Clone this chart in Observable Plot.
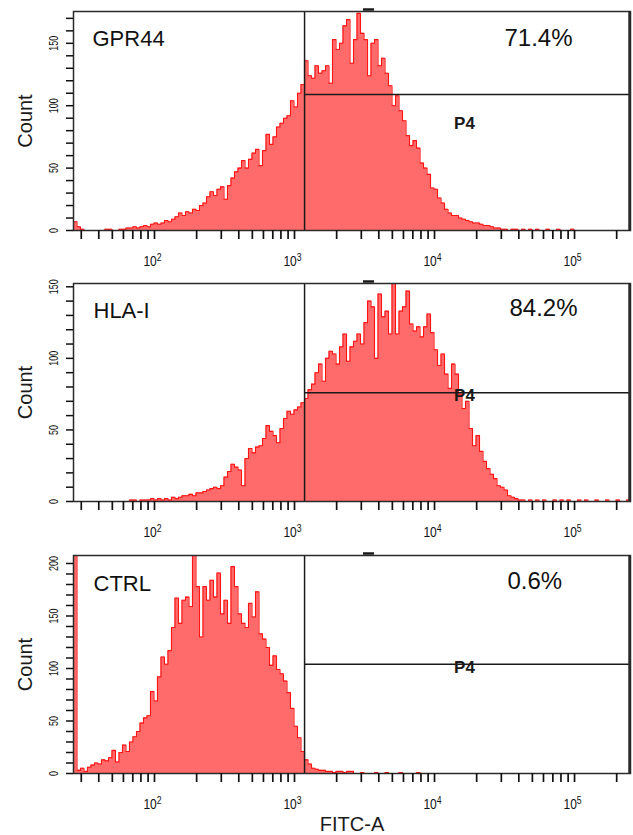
<!DOCTYPE html>
<html><head><meta charset="utf-8">
<script src="https://cdn.jsdelivr.net/npm/d3@7"></script>
<script src="https://cdn.jsdelivr.net/npm/@observablehq/plot@0.6"></script>
<style>
body{margin:0;background:#fff;}
#chart{width:633px;}
#chart svg{display:block;}
</style></head><body><div id="chart"></div>
<script>
// ---------- data ----------
const panelNames = ["GPR44", "HLA-I", "CTRL"];
const panelPercents = ["71.4%", "84.2%", "0.6%"];
const yMax = [175.5, 152.3, 207.6];
const yTicks = [[0, 50, 100, 150], [0, 50, 100, 150], [0, 50, 100, 150, 200]];
const gateX = 1180;
const gateY = [109, 76, 104];
const gateLabel = "P4";
const xAxisLabel = "FITC-A";
const yAxisLabel = "Count";
const xDomain = [26.4, 251000];
const xTicksMajor = [100, 1000, 10000, 100000];
const xTickLabels = ["10^2", "10^3", "10^4", "10^5"];
const xTicksMinor = [30, 40, 50, 60, 70, 80, 90, 200, 300, 400, 500, 600, 700, 800, 900,
  2000, 3000, 4000, 5000, 6000, 7000, 8000, 9000, 20000, 30000, 40000, 50000, 60000, 70000, 80000, 90000, 200000];
const peakMark = [3110, 3725];
// histogram bins: log10 start and width of each channel bin
const binStartLog = 1.4214;
const binStepLog = 0.025;
const countsGPR44 = [
  7,3,1,0,0,0,0,0,0,1,
  1,0,0,1,1,2,2,3,2,3,
  4,3,5,6,5,6,8,7,9,11,
  14,12,15,14,17,16,20,22,27,31,
  28,33,35,25,36,42,47,50,56,50,
  57,62,65,52,64,77,69,75,83,86,
  90,92,104,99,110,117,136,124,122,132,
  126,128,132,118,153,145,150,164,169,134,
  153,174,158,153,124,150,153,132,138,126,
  116,100,108,96,88,76,68,72,66,54,
  50,45,34,33,26,22,17,14,12,12,
  10,9,8,7,6,6,5,4,4,3,
  2,2,1,1,0,1,1,0,1,0,
  1,0,1,0,0,1,0,0,1,0,
  0,0,1,0,0,0,0,0,0,0,
  0,0,0,0,0,0,0,0,0,2
];
const countsHLA = [
  0,0,0,0,0,0,0,0,0,0,
  0,0,0,0,0,0,1,1,0,1,
  1,1,2,1,2,1,2,1,3,2,
  3,4,4,5,4,6,6,7,8,9,
  10,9,11,17,21,26,24,22,11,30,
  37,34,38,39,44,53,49,46,41,51,
  58,63,61,64,66,69,72,78,82,90,
  96,84,100,105,103,96,108,117,98,108,
  112,117,110,125,140,136,100,145,129,133,
  117,153,117,133,136,147,124,119,122,115,
  122,131,118,106,95,103,89,79,96,89,
  75,65,70,51,39,46,35,28,23,19,
  16,11,10,8,4,3,2,1,1,0,
  1,0,1,0,1,0,0,1,0,1,
  0,1,0,0,1,0,1,0,0,1,
  0,0,1,0,0,1,0,0,1,2
];
const countsCTRL = [
  215,3,5,2,6,8,10,9,13,12,
  15,22,11,20,27,21,30,35,40,48,
  53,55,78,69,92,111,104,117,139,167,
  143,165,168,159,210,178,130,178,165,184,
  168,191,152,165,143,197,178,152,143,139,
  162,149,173,133,128,120,103,112,99,95,
  88,77,62,45,34,21,13,9,5,4,
  3,3,2,2,1,2,2,1,2,2,
  0,0,1,0,0,0,1,0,0,1,
  0,0,0,1,0,0,0,0,1,0,
  0,0,0,0,0,0,0,0,0,0,
  0,0,0,0,0,0,0,0,0,0,
  0,0,0,0,0,0,0,0,0,0,
  0,0,0,0,0,0,0,0,0,0,
  0,0,0,0,0,0,0,0,0,0,
  0,0,0,0,0,0,0,0,0,1
];
const panelCounts = [countsGPR44, countsHLA, countsCTRL];

// ---------- layout / style ----------
const FONT = "Liberation Sans, Arial, Helvetica, sans-serif";
const INK = "#1a1a1a";
const layout = [
  {height: 270, mt: 11, mb: 40, name: [19, 34.5], pct: [431, 34]},
  {height: 270, mt: 13, mb: 39, name: [20, 34], pct: [436, 32]},
  {height: 295, mt: 15, mb: 62, name: [20, 35], pct: [434, 33]}
];

function rowsOf(counts) {
  const rows = counts.map((c, i) => ({x: Math.pow(10, binStartLog + i * binStepLog), y: c}));
  rows.push({x: Math.pow(10, binStartLog + counts.length * binStepLog), y: counts[counts.length - 1]});
  return rows;
}

function condense(el, k) {
  let tr = el.getAttribute("transform") || "";
  const x = el.getAttribute("x"), y = el.getAttribute("y");
  if (!/translate/.test(tr) && (x !== null || y !== null) && !/em/.test(y || "")) {
    tr = `translate(${x || 0},${y || 0}) ` + tr;
    el.removeAttribute("x"); el.removeAttribute("y");
  }
  el.setAttribute("transform", tr + ` scale(${k},1)`);
}

function postProcess(svg) {
  d3.select(svg).selectAll("text").each(function () {
    const t = this.textContent;
    const m = /^10\^(\d)$/.exec(t);
    if (m) {
      const sel = d3.select(this);
      sel.text(null);
      sel.append("tspan").text("10");
      sel.append("tspan").attr("dy", "-0.45em").attr("font-size", "0.72em").text(m[1]);
      condense(this, 0.8);
    } else if (/^\d+$/.test(t) && /rotate/.test(this.getAttribute("transform") || "")) {
      condense(this, 0.75);
    }
  });
}

const chart = document.getElementById("chart");
panelNames.forEach((name, p) => {
  const L = layout[p];
  const rows = rowsOf(panelCounts[p]);
  const marks = [
    Plot.areaY(rows, {x: "x", y: "y", curve: "step-after", fill: "#ff6b6b", clip: true}),
    Plot.lineY(rows, {x: "x", y: "y", curve: "step-after", stroke: "#ff1414", strokeWidth: 1.1, clip: true}),
    Plot.ruleX([gateX], {stroke: INK, strokeWidth: 1.5}),
    Plot.ruleY([gateY[p]], {x1: gateX, x2: xDomain[1], stroke: INK, strokeWidth: 1.5}),
    Plot.frame({stroke: "#2a2a2a", strokeWidth: 1.5}),
    Plot.ruleX([xDomain[1]], {stroke: "#2a2a2a", strokeWidth: 2.5, dx: -1}),
    Plot.ruleY([yMax[p]], {x1: peakMark[0], x2: peakMark[1], stroke: INK, strokeWidth: 2.5, dy: -2}),
    Plot.axisX(xTicksMinor.concat(xTicksMajor), {tickSize: 9, tickFormat: () => "", label: null, stroke: "#111", strokeWidth: 1.7, strokeOpacity: 1}),
    Plot.axisY(d3.range(0, yMax[p] + 0.001, 10), {tickSize: 7, tickFormat: () => "", label: null, stroke: "#111", strokeWidth: 1.5, strokeOpacity: 1}),
    Plot.text(xTicksMajor, {x: d => d, frameAnchor: "bottom", lineAnchor: "bottom", dy: 35, dx: -2,
      text: d => xTickLabels[xTicksMajor.indexOf(d)], fontSize: 15, fill: "#111", textAnchor: "middle"}),
    Plot.text(yTicks[p], {y: d => d, frameAnchor: "left", rotate: -90, textAnchor: "middle", lineAnchor: "bottom",
      dx: -16, text: d => String(d), fontSize: 12, fill: "#111"}),
    Plot.text([yAxisLabel], {frameAnchor: "left", rotate: -90, lineAnchor: "middle", textAnchor: "middle",
      dx: -47.5, fontSize: 20, fill: INK}),
    Plot.text([name], {frameAnchor: "top-left", textAnchor: "start", lineAnchor: "bottom",
      dx: L.name[0], dy: L.name[1], fontSize: 22, fill: "#111"}),
    Plot.text([panelPercents[p]], {frameAnchor: "top-left", textAnchor: "start", lineAnchor: "bottom",
      dx: L.pct[0], dy: L.pct[1], fontSize: 24, fill: "#111"}),
    Plot.text([gateLabel], {frameAnchor: "top-left", textAnchor: "middle", lineAnchor: "bottom",
      dx: 391, dy: 117, fontSize: 17, fontWeight: "bold", fill: INK})
  ];
  if (p === 2) {
    marks.push(Plot.text([xAxisLabel], {frameAnchor: "bottom", lineAnchor: "bottom", textAnchor: "middle",
      dy: 57, fontSize: 20, fill: INK}));
  }
  const svg = Plot.plot({
    width: 633,
    height: L.height,
    marginLeft: 73,
    marginRight: 3,
    marginTop: L.mt,
    marginBottom: L.mb,
    style: {fontFamily: FONT, background: "#fff", overflow: "visible"},
    x: {type: "log", domain: xDomain},
    y: {domain: [0, yMax[p]]},
    marks
  });
  postProcess(svg);
  chart.appendChild(svg);
});
</script>
</body></html>
